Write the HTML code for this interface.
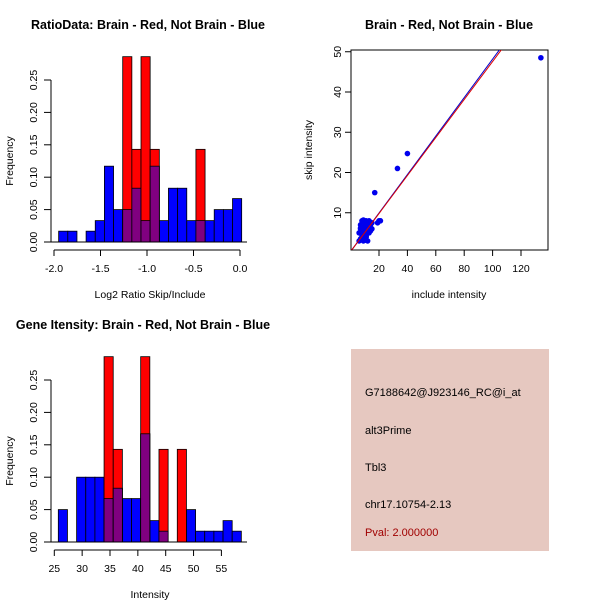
<!DOCTYPE html>
<html><head><meta charset="utf-8"><style>
html,body{margin:0;padding:0;background:#fff;}
svg{display:block;font-family:"Liberation Sans",sans-serif;}
</style></head><body>
<svg id="c" width="600" height="600" viewBox="0 0 600 600">
<rect width="600" height="600" fill="#fff"/>
<text x="148" y="29" font-size="12.5" font-weight="bold" text-anchor="middle">RatioData: Brain - Red, Not Brain - Blue</text>
<text x="449" y="29" font-size="12.5" font-weight="bold" text-anchor="middle">Brain - Red, Not Brain - Blue</text>
<text x="143" y="329" font-size="12.5" font-weight="bold" text-anchor="middle">Gene Itensity: Brain - Red, Not Brain - Blue</text>
<text x="150" y="298" font-size="10.5" text-anchor="middle">Log2 Ratio Skip/Include</text>
<text x="150" y="598" font-size="10.5" text-anchor="middle">Intensity</text>
<text transform="translate(13,161) rotate(-90)" font-size="10.5" text-anchor="middle">Frequency</text>
<text transform="translate(13,461) rotate(-90)" font-size="10.5" text-anchor="middle">Frequency</text>
<text x="449" y="298" font-size="10.5" text-anchor="middle">include intensity</text>
<text transform="translate(312,150) rotate(-90)" font-size="10.5" text-anchor="middle">skip intensity</text>
<g id="h1"></g><g id="h2"></g><g id="sc"></g>
<rect x="351" y="349" width="198" height="202" fill="#e6c8c0"/>
<g font-size="11">
<text x="365" y="396">G7188642@J923146_RC@i_at</text>
<text x="365" y="434">alt3Prime</text>
<text x="365" y="471">Tbl3</text>
<text x="365" y="508">chr17.10754-2.13</text>
<text x="365" y="536" fill="#a00000">Pval: 2.000000</text>
</g>
</svg>
<script>
// Ratio histogram data
const ratioBinStart = -1.95;
const ratioBinWidth = 0.0984;
const ratioBlue = [0.0167,0.0167,0,0.0167,0.033,0.117,0.05,0.05,0.083,0.033,0.117,0.033,0.083,0.083,0.033,0.033,0.033,0.05,0.05,0.067];
const ratioRed = [0,0,0,0,0,0,0,0.286,0.143,0.286,0.143,0,0,0,0,0.143,0,0,0,0];
const ratioXTicks = [-2.0,-1.5,-1.0,-0.5,0.0];
const ratioXLabels = ["-2.0","-1.5","-1.0","-0.5","0.0"];
const freqTicks = [0,0.05,0.10,0.15,0.20,0.25];
const freqLabels = ["0.00","0.05","0.10","0.15","0.20","0.25"];
// Intensity histogram data
const intBinStart = 25.72;
const intBinWidth = 1.643;
const intBlue = [0.05,0,0.1,0.1,0.1,0.067,0.083,0.067,0.067,0.167,0.033,0.0167,0,0,0.05,0.0167,0.0167,0.0167,0.033,0.0167];
const intRed = [0,0,0,0,0,0.286,0.143,0,0,0.286,0,0.143,0,0.143,0,0,0,0,0,0];
const intXTicks = [25,30,35,40,45,50,55];
const intXLabels = ["25","30","35","40","45","50","55"];
// Scatter data
const incl = [6,7,8,9,10,11,12,13,14,15,6,7,8,9,10,11,12,13,7,8,9,10,11,12,14,15,8,9,10,12,13,7,9,11,19,20,21,17,33,40,134];
const skip = [3,3.5,4,3,3.2,4.5,3,5,5.5,6,5,6,5.5,7,6,7.5,6.5,8,7,8,7.5,6.5,8,5,7,7.5,4.5,5,3.5,7,6,6.2,8.2,4,7.5,8,8,15,21,24.7,48.5];
const scXTicks = [20,40,60,80,100,120];
const scYTicks = [10,20,30,40,50];
const blueFit = [0.37,0.478];
const redFit = [0.37,0.472];

const NS="http://www.w3.org/2000/svg";
function mk(p,t,a){const e=document.createElementNS(NS,t);for(const k in a)e.setAttribute(k,a[k]);p.appendChild(e);return e;}

function hist(g,cfg){
  const xs=v=>cfg.x0+(v-cfg.v0)*cfg.kx;
  const ys=v=>cfg.y0-v*cfg.ky;
  const n=cfg.blue.length;
  for(let i=0;i<n;i++){
    const a=cfg.start+i*cfg.w,b=a+cfg.w;
    const X=xs(a),W=xs(b)-X;
    if(cfg.blue[i]>0){const r=mk(g,'rect',{x:X,y:ys(cfg.blue[i]),width:W,height:cfg.y0-ys(cfg.blue[i]),fill:'#0000ff',stroke:'#000','stroke-width':0.8});
      }
  }
  for(let i=0;i<n;i++){
    const a=cfg.start+i*cfg.w,b=a+cfg.w;
    const X=xs(a),W=xs(b)-X;
    if(cfg.red[i]>0){
      const r=mk(g,'rect',{x:X,y:ys(cfg.red[i]),width:W,height:cfg.y0-ys(cfg.red[i]),fill:'#ff0000',stroke:'#000','stroke-width':0.8});
      
      const m=Math.min(cfg.red[i],cfg.blue[i]);
      if(m>0){const p=mk(g,'rect',{x:X,y:ys(m),width:W,height:cfg.y0-ys(m),fill:'#800080',stroke:'#000','stroke-width':0.8});
        }
    }
  }
  // y axis
  const ya=mk(g,'line',{x1:51,x2:51,y1:ys(0),y2:ys(0.25),stroke:'#000'});
  
  freqTicks.forEach((t,i)=>{mk(g,'line',{x1:44,x2:51,y1:ys(t),y2:ys(t),stroke:'#000'});
    const tx=mk(g,'text',{transform:`translate(37,${ys(t)}) rotate(-90)`,'font-size':10.5,'text-anchor':'middle'});tx.textContent=freqLabels[i];
    });
  const ay=cfg.y0+8;
  const xa=mk(g,'line',{x1:xs(cfg.ticks[0]),x2:xs(cfg.ticks[cfg.ticks.length-1]),y1:ay,y2:ay,stroke:'#000'});
  
  cfg.ticks.forEach((t,i)=>{mk(g,'line',{x1:xs(t),x2:xs(t),y1:ay,y2:ay+6,stroke:'#000'});
    const tx=mk(g,'text',{x:xs(t),y:ay+22,'font-size':10.5,'text-anchor':'middle'});tx.textContent=cfg.labels[i];
    });
  mk(g,'line',{x1:51,x2:247,y1:cfg.y0,y2:cfg.y0,stroke:'#000'});
}
hist(document.getElementById('h1'),{x0:54,v0:-2,kx:93,y0:242,ky:648,start:ratioBinStart,w:ratioBinWidth,blue:ratioBlue,red:ratioRed,ticks:ratioXTicks,labels:ratioXLabels});
hist(document.getElementById('h2'),{x0:54.3,v0:25,kx:5.57,y0:542,ky:648,start:intBinStart,w:intBinWidth,blue:intBlue,red:intRed,ticks:intXTicks,labels:intXLabels});

// scatter
(function(){
  const g=document.getElementById('sc');
  const xs=v=>350.6+v*1.42, ys=v=>253-v*4.025;
  const L=351,R=548,T=50,B=250;
  const cp=mk(g,'clipPath',{id:'cp'});mk(cp,'rect',{x:L,y:T,width:R-L,height:B-T});
  const fr=mk(g,'rect',{x:L,y:T,width:R-L,height:B-T,fill:'none',stroke:'#000'});
  
  scXTicks.forEach(t=>{mk(g,'line',{x1:xs(t),x2:xs(t),y1:B,y2:B+6,stroke:'#000'});
    const tx=mk(g,'text',{x:xs(t),y:B+22,'font-size':10.5,'text-anchor':'middle'});tx.textContent=t;
    });
  scYTicks.forEach(t=>{mk(g,'line',{x1:L-6,x2:L,y1:ys(t),y2:ys(t),stroke:'#000'});
    const tx=mk(g,'text',{transform:`translate(${L-10},${ys(t)}) rotate(-90)`,'font-size':10.5,'text-anchor':'middle'});tx.textContent=t;
    });
  const pg=mk(g,'g',{'clip-path':'url(#cp)'});
  incl.forEach((v,i)=>{const c=mk(pg,'circle',{cx:xs(v),cy:ys(skip[i]),r:2.8,fill:'#0000ee'});
    });
  [[blueFit,'#0000cc','blue-fit-line'],[redFit,'#dd0000','red-fit-line']].forEach(([f,col,nm])=>{
    const l=mk(pg,'line',{x1:xs(0),y1:ys(f[0]),x2:xs(140),y2:ys(f[0]+f[1]*140),stroke:col,'stroke-width':1});
    });
})();
</script>
</body></html>
